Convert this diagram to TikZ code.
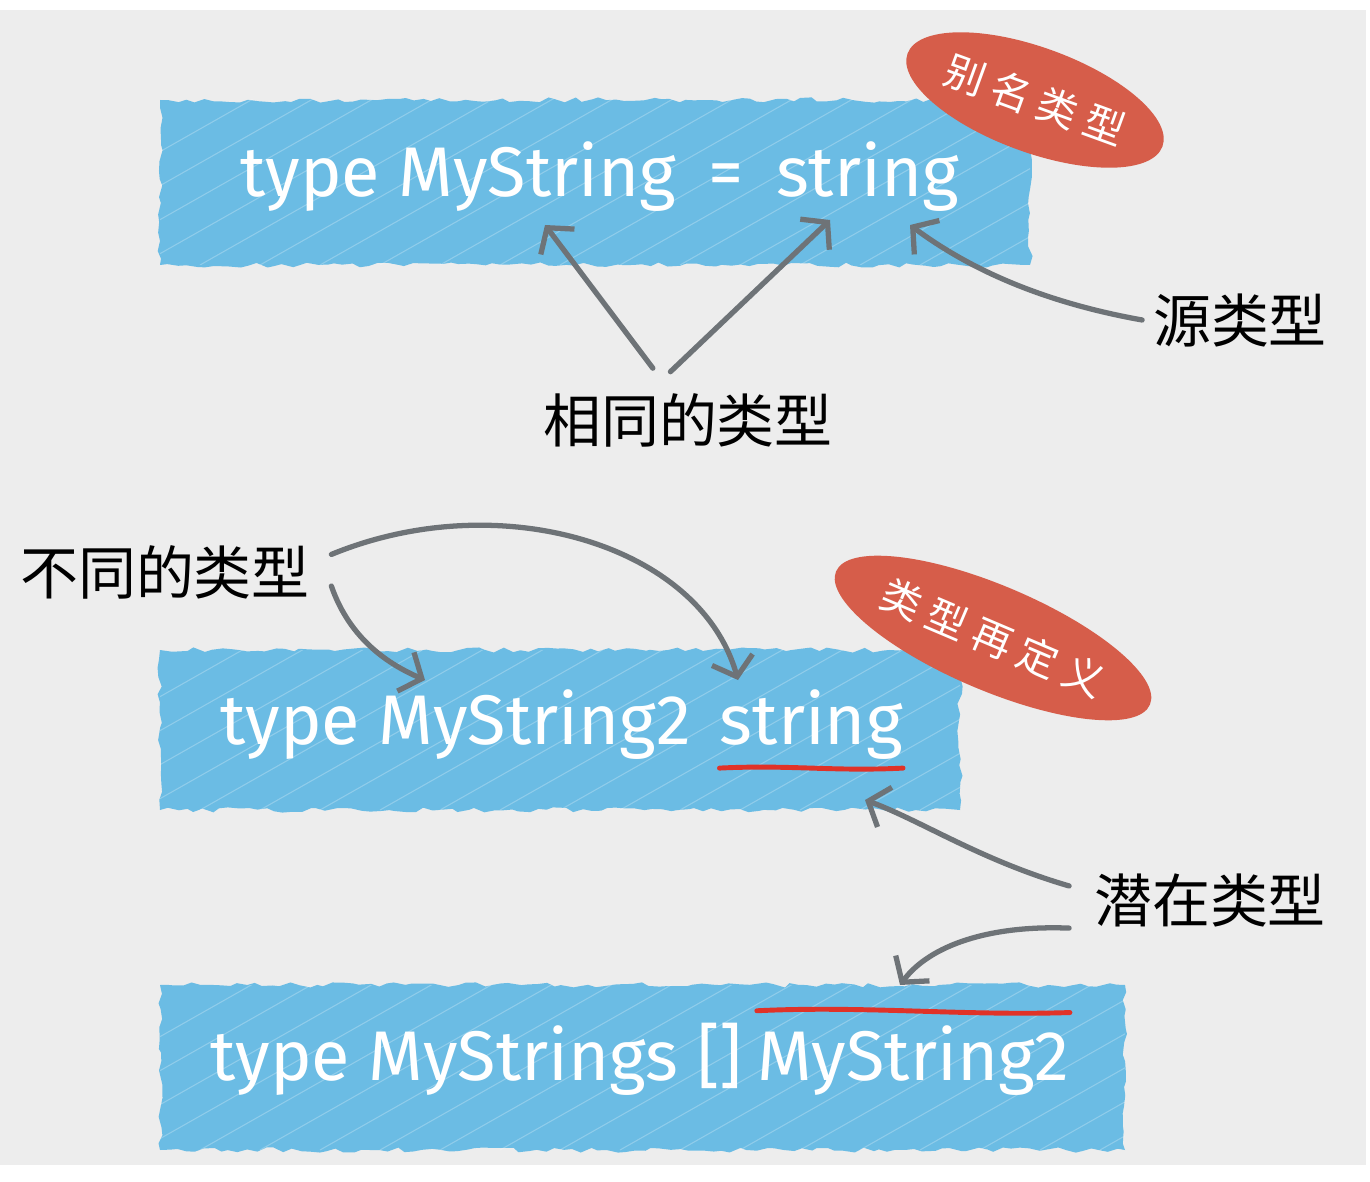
\documentclass[tikz,border=0pt]{standalone}
\usepackage{fontspec}
\setmainfont{Fira Sans}
\newfontfamily\cjk{Noto Sans CJK SC}
\newfontfamily\cjktag[LetterSpace=22]{Noto Sans CJK SC}
\usetikzlibrary{arrows.meta,shapes.geometric,decorations.pathmorphing,positioning}
\definecolor{skyblue}{HTML}{6BBCE4}
\definecolor{tagred}{HTML}{D65D4A}
\definecolor{pencil}{HTML}{6E7377}
\definecolor{paper}{HTML}{EDEDED}
\definecolor{markred}{HTML}{E03228}
\tikzset{
  scribble/.style={fill=skyblue, decorate, decoration={random steps,segment length=5pt,amplitude=1.5pt}},
  code/.style={text=white, font=\fontsize{40}{40}\selectfont, inner sep=0pt},
  note/.style={font=\cjk\fontsize{33}{33}\selectfont, inner sep=0pt},
  tag/.style={ellipse, fill=tagred, text=white, font=\cjktag\fontsize{23}{23}\selectfont, inner sep=1pt, minimum height=2.1cm},
  pointer/.style={pencil, line width=3pt, line cap=round, -{Straight Barb[length=10pt,width=24pt]}},
  marker/.style={markred, line width=2.8pt, line cap=round},
}

\begin{document}
\begin{tikzpicture}[x=0.02cm,y=-0.02cm]
	\useasboundingbox (0,0) rectangle (1370,1182);
	\fill[paper] (0,10) rectangle (1366,1165);
	% blue scribbled boxes
	\foreach \xa/\ya/\xb/\yb in {160/100/1030/265, 160/650/960/810, 160/985/1125/1150} {
			\fill[scribble] (\xa,\ya) rectangle (\xb,\yb);
			\begin{scope}
				\clip (\xa,\ya) rectangle (\xb,\yb);
				\foreach \s in {-200,-140,...,1100}
					\draw[white,opacity=.25,line width=0.6pt] (\xa+\s,\yb) -- ++(300,-170);
			\end{scope}
		}
	% code lines
	\node[code,anchor=base west] (t1a) at (240,197) {type MyString};
	\node[code,base right=18pt of t1a] (t1b) {=};
	\node[code,base right=18pt of t1b] (t1c) {string};
	\node[code,anchor=base west] (t2a) at (220,744) {type MyString2};
	\node[code,base right=16pt of t2a] (t2b) {string};
	\node[code,anchor=base west] (t3a) at (210,1080) {type MyStrings []};
	\node[code,base right=8pt of t3a] (t3b) {MyString2};
	\draw[marker] ([yshift=-5pt]t2b.south west) .. controls ([xshift=40pt,yshift=-3pt]t2b.south west) and ([xshift=-40pt,yshift=-7pt]t2b.south east) .. ([yshift=-5pt]t2b.south east);
	\draw[marker] ([yshift=8pt]t3b.north west) .. controls ([xshift=60pt,yshift=11pt]t3b.north west) and ([xshift=-60pt,yshift=5pt]t3b.north east) .. ([yshift=7pt]t3b.north east);
	% tags
	\node[tag,rotate=-20] (alias) at (1035,100) {别名类型};
	\node[tag,rotate=-23] (redef) at (993,638) {类型再定义};
	% notes
	\node[note] (same) at (688,420) {相同的类型};
	\node[note] (source) at (1240,320) {源类型};
	\node[note] (diff) at (165,572) {不同的类型};
	\node[note] (latent) at (1210,900) {潜在类型};
	% arrow ends
	\coordinate (myStr) at (545,225);
	\coordinate (strL) at (830,220);
	\coordinate (strR) at (910,225);
	\coordinate (myStr2) at (425,680);
	\coordinate (str2) at (738,680);
	\coordinate (str2b) at (865,800);
	\coordinate (myStrs) at (900,985);
	% arrows
	\draw[pointer] ([xshift=-20pt,yshift=14pt]same.north) -- (myStr);
	\draw[pointer] ([xshift=-10pt,yshift=12pt]same.north) -- (strL);
	\draw[pointer] ([xshift=-6pt]source.west) .. controls (1030,300) and (960,262) .. (strR);
	\draw[pointer] ([xshift=12pt,yshift=-8pt]diff.east) .. controls (350,640) and (390,665) .. (myStr2);
	\draw[pointer] ([xshift=12pt,yshift=10pt]diff.east) .. controls (500,485) and (700,545) .. (str2);
	\draw[pointer] ([xshift=-14pt,yshift=8pt]latent.west) .. controls (980,860) and (920,820) .. (str2b);
	\draw[pointer] ([xshift=-14pt,yshift=-16pt]latent.west) .. controls (990,925) and (930,945) .. (myStrs);
\end{tikzpicture}
\end{document}
